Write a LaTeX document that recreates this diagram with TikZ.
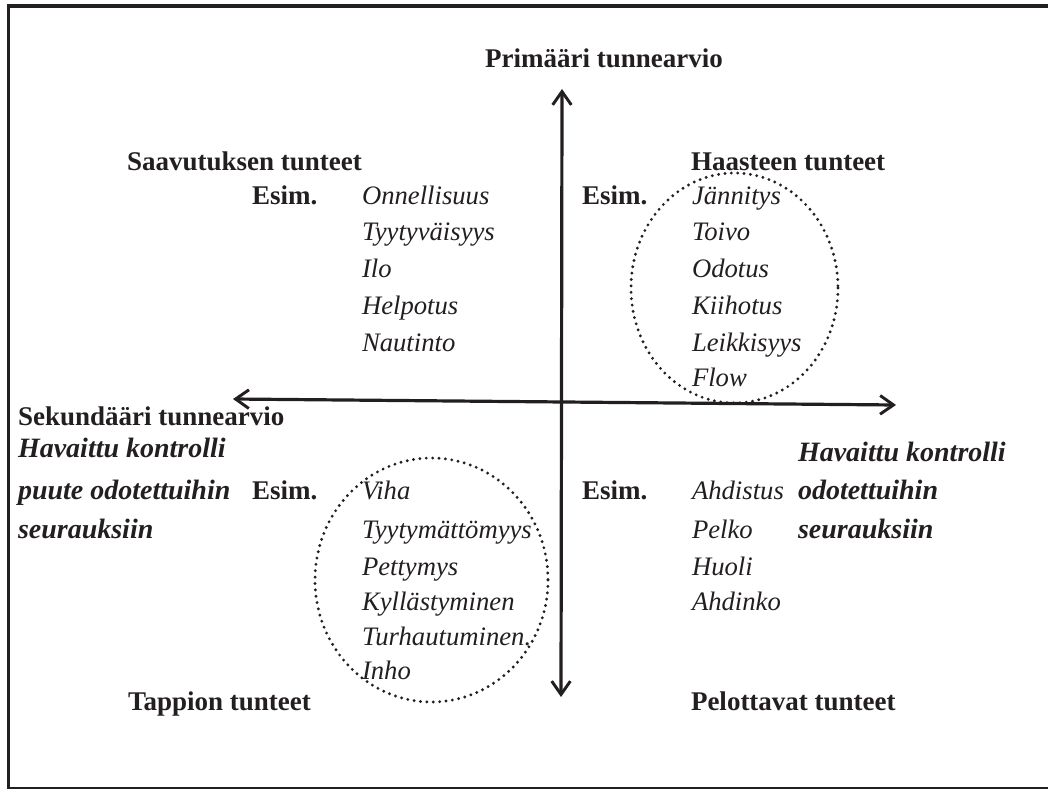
\documentclass[tikz,border=0pt]{standalone}
\usepackage{fontspec}
\setmainfont{Liberation Serif}
\usetikzlibrary{arrows.meta}
\definecolor{ink}{HTML}{231F20}
\begin{document}
\begin{tikzpicture}[x=0.75pt,y=-0.75pt,
  every node/.style={inner sep=0pt, outer sep=0pt, text=ink},
  head/.style={font=\fontsize{20.25}{24}\selectfont\bfseries, anchor=base west},
  ex/.style={font=\fontsize{20}{24}\selectfont\itshape, anchor=base west},
  ctl/.style={font=\fontsize{21}{24}\selectfont\bfseries\itshape, anchor=base west},
  barb/.tip={Straight Barb[length=10pt,width=14pt,line width=2.2pt]},
  axis/.style={draw=ink, line width=2.4pt, barb-barb},
  ring/.style={draw=ink, line width=2.4pt, line cap=round, dash pattern=on 0pt off 4.8pt},
]
\useasboundingbox (0,0) rectangle (1048,788);

% outer frame (its right edge runs past the page)
\begin{scope}
  \clip (0,0) rectangle (1048,788);
  \draw[ink, line width=2.6pt] (8.7,6) rectangle (1075,788.5);
\end{scope}

% axes
\coordinate (vtop) at (562,89);
\coordinate (vbot) at (561,697);
\coordinate (hleft) at (233,399);
\coordinate (hright) at (896,405);
\draw[axis] (vbot) -- (vtop);
\draw[axis] (hright) -- (hleft);

% axis titles
\node[font=\fontsize{20.25}{24}\selectfont\bfseries, anchor=base] (prim) at (604,68) {Primääri tunnearvio};
\node[head] (sek) at (18,425) {Sekundääri tunnearvio};

% upper left quadrant
\node[head] (saav) at (127,171) {Saavutuksen tunteet};
\node[head] (esim1) at (252,204) {Esim.};
\node[ex] (a1) at (362,204) {Onnellisuus};
\node[ex] (a2) at (362,240) {Tyytyväisyys};
\node[ex] (a3) at (362,277) {Ilo};
\node[ex] (a4) at (362,314) {Helpotus};
\node[ex] (a5) at (362,351) {Nautinto};

% upper right quadrant
\node[head] (haas) at (691,171) {Haasteen tunteet};
\node[head] (esim2) at (582,204) {Esim.};
\node[ex] (b1) at (692,204) {Jännitys};
\node[ex] (b2) at (692,240) {Toivo};
\node[ex] (b3) at (692,277) {Odotus};
\node[ex] (b4) at (692,314) {Kiihotus};
\node[ex] (b5) at (692,351) {Leikkisyys};
\node[ex] (b6) at (692,386) {Flow};
\draw[ring] (734.5,288) ellipse [x radius=103.5, y radius=115];

% lower left quadrant
\node[ctl] (c1) at (18,457) {Havaittu kontrolli};
\node[ctl] (c2) at (18,499) {puute odotettuihin};
\node[ctl] (c3) at (18,538) {seurauksiin};
\node[head] (esim3) at (252,499) {Esim.};
\node[ex] (d1) at (362,499) {Viha};
\node[ex] (d2) at (362,538) {Tyytymättömyys};
\node[ex] (d3) at (362,575) {Pettymys};
\node[ex] (d4) at (362,610) {Kyllästyminen};
\node[ex] (d5) at (362,645) {Turhautuminen.};
\node[ex] (d6) at (362,679) {Inho};
\node[head] (tapp) at (128,710) {Tappion tunteet};
\draw[ring] (431.5,580) ellipse [x radius=116.5, y radius=122];

% lower right quadrant
\node[head] (esim4) at (582,499) {Esim.};
\node[ex] (e1) at (692,499) {Ahdistus};
\node[ex] (e2) at (692,538) {Pelko};
\node[ex] (e3) at (692,575) {Huoli};
\node[ex] (e4) at (692,610) {Ahdinko};
\node[ctl] (f1) at (798,461) {Havaittu kontrolli};
\node[ctl] (f2) at (798,499) {odotettuihin};
\node[ctl] (f3) at (798,538) {seurauksiin};
\node[head] (pelo) at (691,710) {Pelottavat tunteet};
\end{tikzpicture}
\end{document}
